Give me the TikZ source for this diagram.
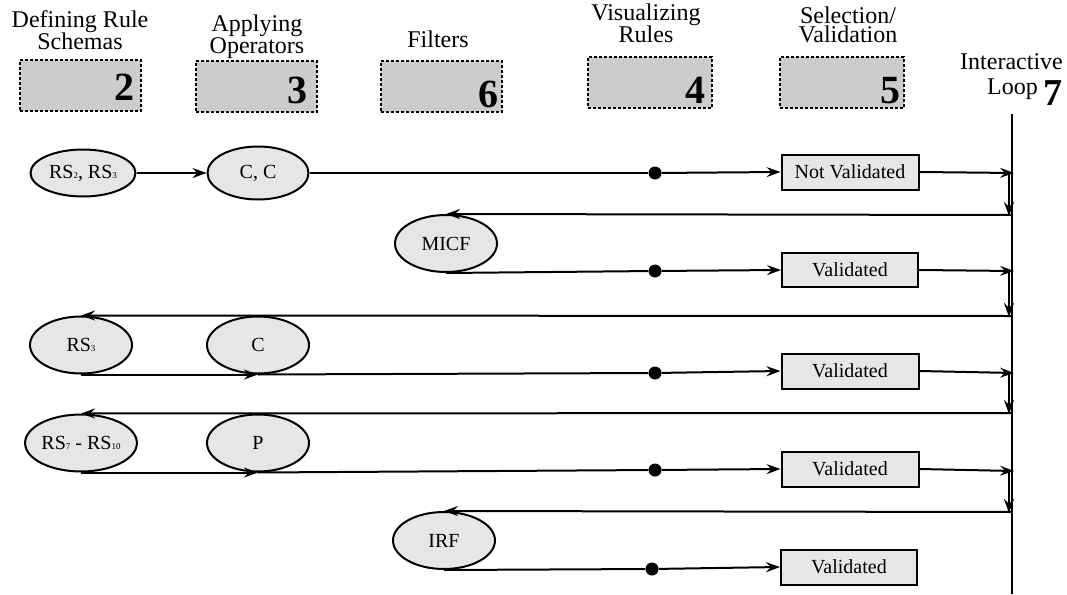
\documentclass[tikz,border=0pt]{standalone}
\usepackage{fontspec}
\setmainfont{Liberation Serif}
\usetikzlibrary{shapes.geometric,arrows.meta,calc}
\definecolor{boxgray}{RGB}{204,204,204}
\definecolor{ellgray}{RGB}{230,230,230}
\newcommand\mysub[1]{\raisebox{-0.5pt}{\fontsize{9}{9}\selectfont #1}}
\begin{document}
\begin{tikzpicture}[x=1pt,y=-1pt,
  lw/.style={line width=2pt},
  arr/.style={lw,-{Stealth[length=14pt,width=10pt,inset=5pt]}},
  ell/.style={ellipse,draw,lw,fill=ellgray,minimum width=102pt,minimum height=57pt,inner sep=0pt,font=\fontsize{20}{20}\selectfont},
  rbox/.style={rectangle,draw,lw,fill=ellgray,minimum width=137pt,minimum height=35pt,inner sep=0pt,font=\fontsize{20}{20}\selectfont},
  hbox/.style={rectangle,draw,line width=1.8pt,dash pattern=on 3pt off 2pt,fill=boxgray,minimum width=121pt,minimum height=51pt,inner sep=0pt},
  num/.style={font=\fontsize{40}{40}\selectfont\bfseries,inner sep=0pt,anchor=base east},
  title/.style={font=\fontsize{24}{19}\selectfont,align=center,inner sep=0pt,anchor=base},
  blob/.style={circle,fill=black,minimum size=13pt,inner sep=0pt},
]
\useasboundingbox (0,0) rectangle (1067,594);

% header (base anchor = baseline of the last line)
\node[title] (t2) at (80,50) {Defining Rule\\Schemas};
\node[title] (t3) at (257,54) {Applying\\Operators};
\node[title] (t6) at (438,48) {Filters};
\node[title] (t4) at (646,43) {Visualizing\\Rules};
\node[title] (t5) at (848,42) {Selection/\\Validation};
\node[font=\fontsize{24}{25}\selectfont,align=right,inner sep=0pt,anchor=base east] (t7) at (1063,94)
  {Interactive\\Loop \raisebox{-11pt}{\fontsize{38}{38}\selectfont\bfseries 7}};

\node[hbox] (b2) at (80.5,85.5) {};
\node[hbox] (b3) at (256.5,86.5) {};
\node[hbox] (b6) at (441.5,86.5) {};
\node[hbox, minimum width=124pt] (b4) at (650,82.5) {};
\node[hbox, minimum width=124pt] (b5) at (842,82.5) {};
\node[num] (n2) at (135,100) {2};
\node[num] (n3) at (308,103) {3};
\node[num] (n6) at (499,107) {6};
\node[num] (n4) at (706,103) {4};
\node[num] (n5) at (901,103) {5};

% loop line
\coordinate (ltop) at (1012,114);
\coordinate (lbot) at (1012,594);
\draw[lw] (ltop) -- (lbot);

% row 1
\node[ell, minimum width=105pt, minimum height=47pt] (rs23) at (83,173) {RS\mysub{2}, RS\mysub{3}};
\node[ell, minimum width=101pt, minimum height=53pt] (cc) at (258,173) {C, C};
\node[blob] (d1) at (655,173) {};
\node[rbox] (nv) at (850,172) {Not Validated};
\coordinate (in1) at (1014,173);
\draw[arr] (rs23) -- (cc);
\draw[lw] (cc.east) -- (d1);
\draw[arr] (d1) -- (nv.west);
\draw[arr] (nv.east) -- (in1);

% row 2
\coordinate (dn1a) at (1009,173);
\coordinate (dn1b) at (1009,216);
\draw[arr] (dn1a) -- (dn1b);
\coordinate (ret2) at (1012,215);
\node[ell] (micf) at (446,243.5) {MICF};
\node[blob] (d2) at (655,271) {};
\node[rbox, minimum width=136pt, minimum height=34pt] (v2) at (850,270) {Validated};
\coordinate (in2) at (1014,271);
\draw[arr] (ret2) -- (micf.north);
\draw[lw] (micf.south) -- (d2);
\draw[arr] (d2) -- (v2.west);
\draw[arr] (v2.east) -- (in2);

% row 3
\coordinate (dn2a) at (1009,271);
\coordinate (dn2b) at (1009,317);
\draw[arr] (dn2a) -- (dn2b);
\coordinate (ret3) at (1012,316);
\node[ell] (rs3) at (81,345) {RS\mysub{3}};
\node[ell] (c3) at (258,345) {C};
\node[blob] (d3) at (655,373) {};
\node[rbox] (v3) at (850,371) {Validated};
\coordinate (in3) at (1014,373);
\draw[arr] (ret3) -- (rs3.north);
\draw[arr] (rs3.south) -- (c3.south);
\draw[lw] (c3.south) -- (d3);
\draw[arr] (d3) -- (v3.west);
\draw[arr] (v3.east) -- (in3);

% row 4
\coordinate (dn3a) at (1009,373);
\coordinate (dn3b) at (1009,414);
\draw[arr] (dn3a) -- (dn3b);
\coordinate (ret4) at (1012,413);
\node[ell] (rs710) at (81,443) {RS\mysub{7} - RS\mysub{10}};
\node[ell] (p4) at (258,443) {P};
\node[blob] (d4) at (655,470) {};
\node[rbox] (v4) at (850,469) {Validated};
\coordinate (in4) at (1014,471);
\draw[arr] (ret4) -- (rs710.north);
\draw[arr] (rs710.south) -- (p4.south);
\draw[lw] (p4.south) -- (d4);
\draw[arr] (d4) -- (v4.west);
\draw[arr] (v4.east) -- (in4);

% row 5
\coordinate (dn4a) at (1009,471);
\coordinate (dn4b) at (1009,513);
\draw[arr] (dn4a) -- (dn4b);
\coordinate (ret5) at (1012,512);
\node[ell] (irf) at (444,540.5) {IRF};
\node[blob] (d5) at (652,569) {};
\node[rbox, minimum width=136pt] (v5) at (849,567) {Validated};
\draw[arr] (ret5) -- (irf.north);
\draw[lw] (irf.south) -- (d5);
\draw[arr] (d5) -- (v5.west);
\end{tikzpicture}
\end{document}
